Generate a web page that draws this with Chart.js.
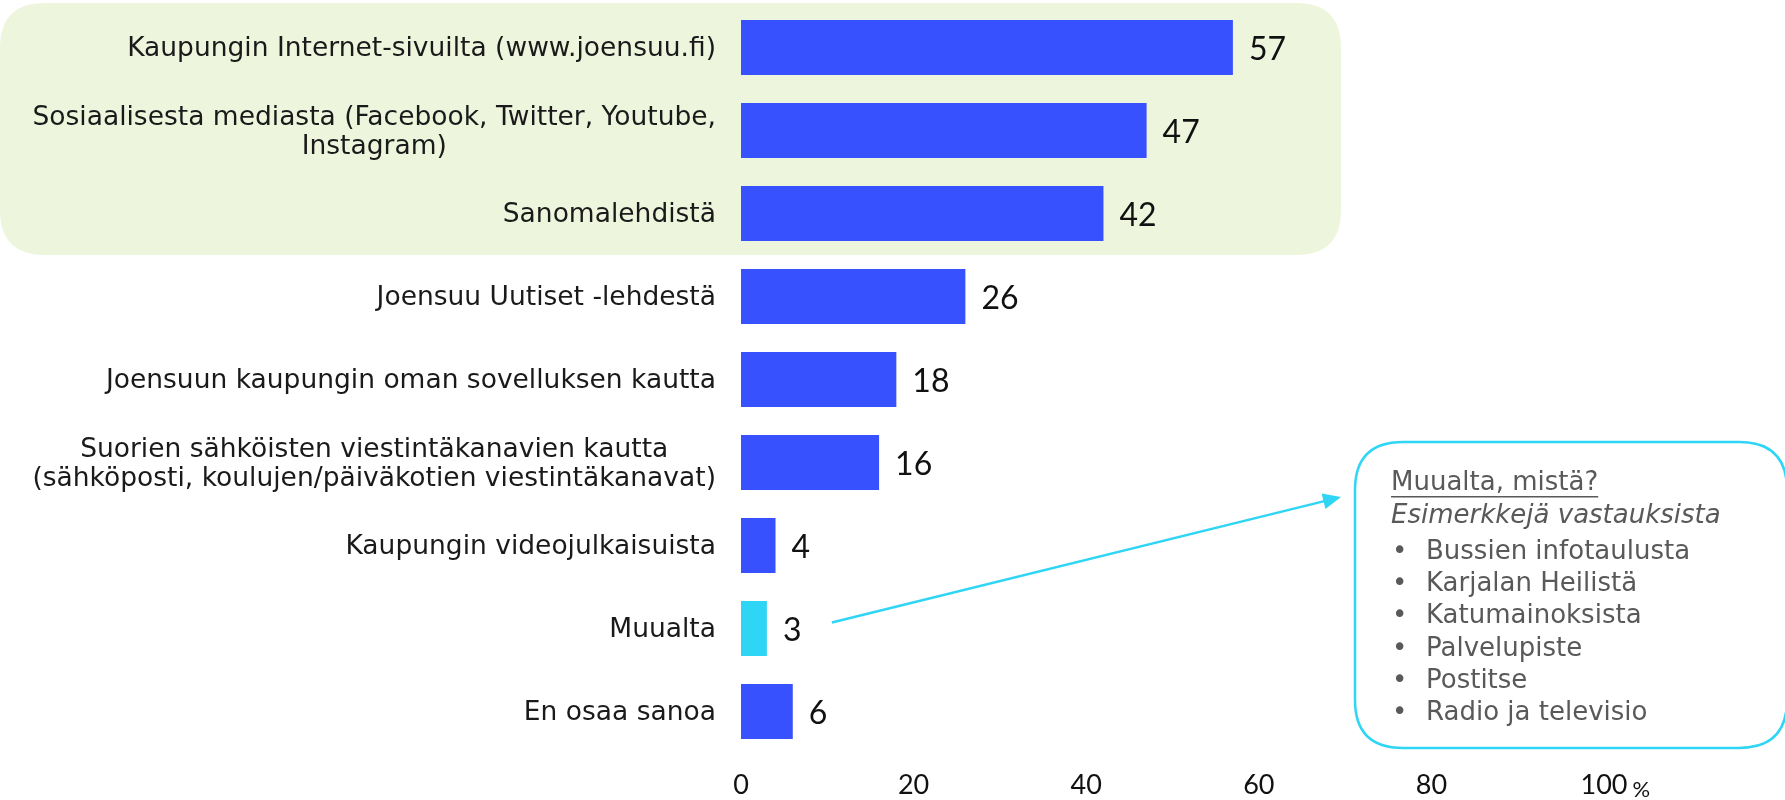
<!DOCTYPE html>
<html>
<head>
<meta charset="utf-8">
<script src="https://cdn.jsdelivr.net/npm/chart.js@4.4.0/dist/chart.umd.min.js"></script>
<style>
  html, body { margin: 0; padding: 0; background: #fff; }
  #wrap { width: 1785px; height: 800px; position: relative; }
</style>
</head>
<body>
<div id="wrap"><canvas id="chart"></canvas></div>
<script>
const categories = [
  ['Kaupungin Internet-sivuilta (www.joensuu.fi)'],
  ['Sosiaalisesta mediasta (Facebook, Twitter, Youtube,', 'Instagram)'],
  ['Sanomalehdistä'],
  ['Joensuu Uutiset -lehdestä'],
  ['Joensuun kaupungin oman sovelluksen kautta'],
  ['Suorien sähköisten viestintäkanavien kautta', '(sähköposti, koulujen/päiväkotien viestintäkanavat)'],
  ['Kaupungin videojulkaisuista'],
  ['Muualta'],
  ['En osaa sanoa']
];
const values = [57, 47, 42, 26, 18, 16, 4, 3, 6];
const xTicks = [0, 20, 40, 60, 80, 100];
const highlightRows = 3;   // top rows on the green background
const otherIndex = 7;      // "Muualta" row, linked to the callout
const calloutTitle = 'Muualta, mistä?';
const calloutSubtitle = 'Esimerkkejä vastauksista';
const calloutItems = ['Bussien infotaulusta', 'Karjalan Heilistä', 'Katumainoksista', 'Palvelupiste', 'Postitse', 'Radio ja televisio'];

const BLUE = '#3851FF';
const CYAN = '#2ED5F5';
const LABEL_FONT = '26.5px "DejaVu Sans"';
const BOX_FONT = '"DejaVu Sans"';
const barColors = values.map((v, i) => i === otherIndex ? CYAN : BLUE);

function roundRect(ctx, x, y, w, h, r) {
  ctx.beginPath();
  ctx.moveTo(x + r, y);
  ctx.lineTo(x + w - r, y);
  ctx.quadraticCurveTo(x + w, y, x + w, y + r);
  ctx.lineTo(x + w, y + h - r);
  ctx.quadraticCurveTo(x + w, y + h, x + w - r, y + h);
  ctx.lineTo(x + r, y + h);
  ctx.quadraticCurveTo(x, y + h, x, y + h - r);
  ctx.lineTo(x, y + r);
  ctx.quadraticCurveTo(x, y, x + r, y);
  ctx.closePath();
}

// green highlight behind the first rows
const highlightPlugin = {
  id: 'highlight',
  beforeDraw(chart) {
    const { ctx, chartArea, scales } = chart;
    const band = (chartArea.bottom - chartArea.top) / categories.length;
    const top = scales.y.getPixelForValue(0) - band / 2 - 3;
    const bottom = scales.y.getPixelForValue(highlightRows - 1) + band / 2;
    ctx.save();
    ctx.fillStyle = '#EEF5DD';
    roundRect(ctx, 0, top, 1341, bottom - top, 45);
    ctx.fill();
    ctx.restore();
  }
};

// category labels: right aligned block, lines centred within it
const catLabelPlugin = {
  id: 'catLabels',
  afterDraw(chart) {
    const { ctx, scales } = chart;
    const right = scales.y.right - 25;
    const lh = 29;
    ctx.save();
    ctx.font = LABEL_FONT;
    ctx.fillStyle = '#1a1a1a';
    ctx.textAlign = 'center';
    ctx.textBaseline = 'middle';
    categories.forEach((lines, i) => {
      const y = scales.y.getPixelForValue(i);
      const w = Math.max(...lines.map(l => ctx.measureText(l).width));
      const cx = right - w / 2;
      const y0 = y - (lines.length - 1) * lh / 2 + 2;
      lines.forEach((l, k) => ctx.fillText(l, cx, y0 + k * lh));
    });
    ctx.restore();
  }
};

const valueLabelPlugin = {
  id: 'valueLabels',
  afterDatasetsDraw(chart) {
    const { ctx } = chart;
    const meta = chart.getDatasetMeta(0);
    ctx.save();
    ctx.font = '32px Lato';
    ctx.fillStyle = '#111';
    ctx.textAlign = 'left';
    ctx.textBaseline = 'middle';
    meta.data.forEach((bar, i) => {
      ctx.fillText(String(values[i]), bar.x + 16, bar.y + 2);
    });
    ctx.restore();
  }
};

const percentPlugin = {
  id: 'percent',
  afterDraw(chart) {
    const { ctx, scales } = chart;
    const x = scales.x.getPixelForValue(100);
    ctx.save();
    ctx.font = '27px Lato';
    const w = ctx.measureText('100').width;
    ctx.font = '22px Lato';
    ctx.fillStyle = '#111';
    ctx.textBaseline = 'alphabetic';
    ctx.fillText('%', x + w / 2 + 5, 797);
    ctx.restore();
  }
};

const calloutPlugin = {
  id: 'callout',
  afterDraw(chart) {
    const { ctx } = chart;
    const bar = chart.getDatasetMeta(0).data[otherIndex];
    const sx = bar.x + 65, sy = bar.y - 6;
    const ex = 1341, ey = 497;
    ctx.save();
    // arrow
    ctx.strokeStyle = CYAN;
    ctx.fillStyle = CYAN;
    ctx.lineWidth = 2.5;
    const ang = Math.atan2(ey - sy, ex - sx);
    ctx.beginPath();
    ctx.moveTo(sx, sy);
    ctx.lineTo(ex - 14 * Math.cos(ang), ey - 14 * Math.sin(ang));
    ctx.stroke();
    ctx.beginPath();
    ctx.moveTo(ex, ey);
    ctx.lineTo(ex - 18 * Math.cos(ang) + 8 * Math.sin(ang), ey - 18 * Math.sin(ang) - 8 * Math.cos(ang));
    ctx.lineTo(ex - 18 * Math.cos(ang) - 8 * Math.sin(ang), ey - 18 * Math.sin(ang) + 8 * Math.cos(ang));
    ctx.closePath();
    ctx.fill();
    // box
    ctx.lineWidth = 2.5;
    roundRect(ctx, 1355, 442, 432, 306, 48);
    ctx.fillStyle = '#fff';
    ctx.fill();
    ctx.stroke();
    // texts
    ctx.fillStyle = '#595959';
    ctx.textBaseline = 'middle';
    ctx.textAlign = 'left';
    ctx.font = '26px ' + BOX_FONT;
    ctx.fillText(calloutTitle, 1391, 483);
    const tw = ctx.measureText(calloutTitle).width;
    ctx.fillRect(1391, 496, tw, 1.5);
    ctx.font = 'italic 26px ' + BOX_FONT;
    ctx.fillText(calloutSubtitle, 1391, 516);
    ctx.font = '26px ' + BOX_FONT;
    calloutItems.forEach((t, i) => {
      const y = 552 + i * 32.3;
      ctx.fillText('•', 1392, y);
      ctx.fillText(t, 1426, y);
    });
    ctx.restore();
  }
};

new Chart(document.getElementById('chart'), {
  type: 'bar',
  data: {
    labels: categories,
    datasets: [{
      data: values,
      backgroundColor: barColors,
      borderWidth: 0,
      barPercentage: 0.66,
      categoryPercentage: 1
    }]
  },
  options: {
    indexAxis: 'y',
    responsive: true,
    maintainAspectRatio: false,
    animation: false,
    layout: { padding: { top: 6, right: 181, left: 0, bottom: 0 } },
    plugins: {
      legend: { display: false },
      tooltip: { enabled: false }
    },
    scales: {
      y: {
        grid: { display: false },
        border: { display: false },
        ticks: { display: false },
        afterFit: scale => { scale.width = 741; }
      },
      x: {
        min: 0,
        max: 100,
        afterBuildTicks: scale => { scale.ticks = xTicks.map(v => ({ value: v })); },
        grid: { display: false },
        border: { display: false },
        ticks: { color: '#111', font: { family: 'Lato', size: 27 }, padding: 8, maxRotation: 0 },
        afterFit: scale => { scale.height = 47; }
      }
    }
  },
  plugins: [highlightPlugin, catLabelPlugin, valueLabelPlugin, percentPlugin, calloutPlugin]
});
</script>
</body>
</html>
